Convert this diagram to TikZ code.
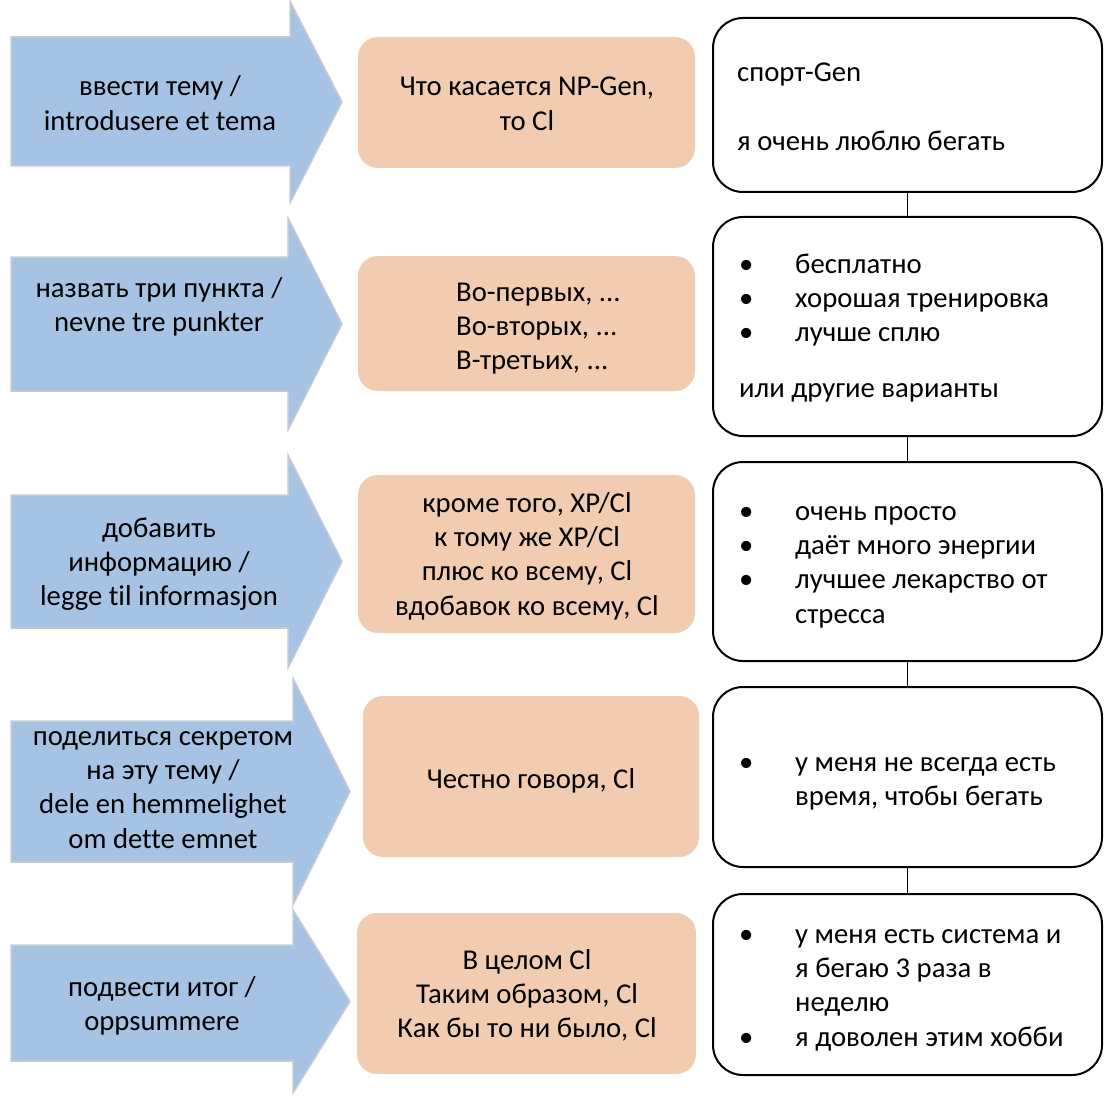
\documentclass[tikz,border=0pt]{standalone}
\usepackage{fontspec}
\setmainfont{Carlito}[Ligatures=CommonOff]
\usetikzlibrary{fit}
\definecolor{stepfill}{HTML}{A6C3E4}
\definecolor{stepline}{HTML}{C6CBD2}
\definecolor{phrasefill}{HTML}{F1CCB0}
% bullet with a hanging indent, and the matching indent for a continued line
\newcommand\bul{\makebox[56pt][l]{•}}
\newcommand\cont{\hspace*{56pt}}
% block arrow: body top, body bottom, head top, head bottom, head base x, tip x
\newcommand\steparrow[7]{%
  \draw[stepshape] (11,#1) -- (#5,#1) -- (#5,#3) -- (#6,{(#3+#4)/2}) --
    (#5,#4) -- (#5,#2) -- (11,#2) -- cycle;
  \coordinate (#7) at (11,#1);}
\begin{document}
\begin{tikzpicture}[x=1pt,y=-1pt,
  stepshape/.style={fill=stepfill,draw=stepline,line width=1.5pt,line join=miter},
  phrasebox/.style={fill=phrasefill,rounded corners=20pt,inner sep=0pt},
  examplebox/.style={draw=black,line width=2pt,rounded corners=30pt,fill=white,inner sep=0pt},
  link/.style={draw=black,line width=1pt},
  txt/.style={inner sep=0pt,font=\fontsize{28.7}{34.4}\selectfont},
]
\useasboundingbox (0,0) rectangle (1116,1110);

% step arrows
\steparrow{37}{166}{1}{203}{290}{342}{a1}
\steparrow{257}{391}{218}{430}{288}{342}{a2}
\steparrow{495}{628}{455}{668}{288}{342}{a3}
\steparrow{721}{862}{678}{905}{293}{350}{a4}
\steparrow{945}{1061}{910}{1093}{293}{350}{a5}

% phrase boxes
\node[phrasebox,fit={(358,37) (695,168)}] (p1) {};
\node[phrasebox,fit={(358,256) (695,391)}] (p2) {};
\node[phrasebox,fit={(358,475) (695,633)}] (p3) {};
\node[phrasebox,fit={(363,696) (699,857)}] (p4) {};
\node[phrasebox,fit={(357,913) (696,1074)}] (p5) {};

% example boxes
\node[examplebox,fit={(713,18) (1102,192)}] (e1) {};
\node[examplebox,fit={(713,217) (1102,436)}] (e2) {};
\node[examplebox,fit={(713,462) (1102,661)}] (e3) {};
\node[examplebox,fit={(713,687) (1102,867)}] (e4) {};
\node[examplebox,fit={(713,894) (1102,1075)}] (e5) {};

% links between the example boxes
\draw[link] (e1.south) -- (e2.north);
\draw[link] (e2.south) -- (e3.north);
\draw[link] (e3.south) -- (e4.north);
\draw[link] (e4.south) -- (e5.north);

% step labels
\node[txt,anchor=base] (s1) at (160,96)
  {\begin{tabular}[t]{@{}c@{}}ввести тему /\\introdusere et tema\end{tabular}};
\node[txt,anchor=base] (s2) at (159,297)
  {\begin{tabular}[t]{@{}c@{}}назвать три пункта /\\nevne tre punkter\end{tabular}};
\node[txt,anchor=base] (s3) at (159,537)
  {\begin{tabular}[t]{@{}c@{}}добавить\\информацию /\\legge til informasjon\end{tabular}};
\node[txt,anchor=base] (s4) at (163,745)
  {\begin{tabular}[t]{@{}c@{}}поделиться секретом\\на эту тему /\\dele en hemmelighet\\om dette emnet\end{tabular}};
\node[txt,anchor=base] (s5) at (162,996)
  {\begin{tabular}[t]{@{}c@{}}подвести итог /\\oppsummere\end{tabular}};

% phrase labels
\node[txt,anchor=base] (t1) at (527,96)
  {\begin{tabular}[t]{@{}c@{}}Что касается NP-Gen,\\то Cl\end{tabular}};
\node[txt,anchor=base west] (t2) at (456,301)
  {\begin{tabular}[t]{@{}l@{}}Во-первых, ...\\Во-вторых, ...\\В-третьих, ...\end{tabular}};
\node[txt,anchor=base] (t3) at (527,512)
  {\begin{tabular}[t]{@{}c@{}}кроме того, XP/Cl\\к тому же XP/Cl\\плюс ко всему, Cl\\вдобавок ко всему, Cl\end{tabular}};
\node[txt,anchor=base] (t4) at (531,788) {Честно говоря, Cl};
\node[txt,anchor=base] (t5) at (527,969)
  {\begin{tabular}[t]{@{}c@{}}В целом Cl\\Таким образом, Cl\\Как бы то ни было, Cl\end{tabular}};

% example labels
\node[txt,anchor=base west] (x1) at (737,82)
  {\begin{tabular}[t]{@{}l@{}}спорт-Gen\\[34.4pt]я очень люблю бегать\end{tabular}};
\node[txt,anchor=base west] (x2) at (739,273)
  {\begin{tabular}[t]{@{}l@{}}\bul бесплатно\\\bul хорошая тренировка\\\bul лучше сплю\\[21.6pt]или другие варианты\end{tabular}};
\node[txt,anchor=base west] (x3) at (739,520)
  {\begin{tabular}[t]{@{}l@{}}\bul очень просто\\\bul даёт много энергии\\\bul лучшее лекарство от\\\cont стресса\end{tabular}};
\node[txt,anchor=base west] (x4) at (739,771)
  {\begin{tabular}[t]{@{}l@{}}\bul у меня не всегда есть\\\cont время, чтобы бегать\end{tabular}};
\node[txt,anchor=base west] (x5) at (739,943)
  {\begin{tabular}[t]{@{}l@{}}\bul у меня есть система и\\\cont я бегаю 3 раза в\\\cont неделю\\\bul я доволен этим хобби\end{tabular}};
\end{tikzpicture}
\end{document}
